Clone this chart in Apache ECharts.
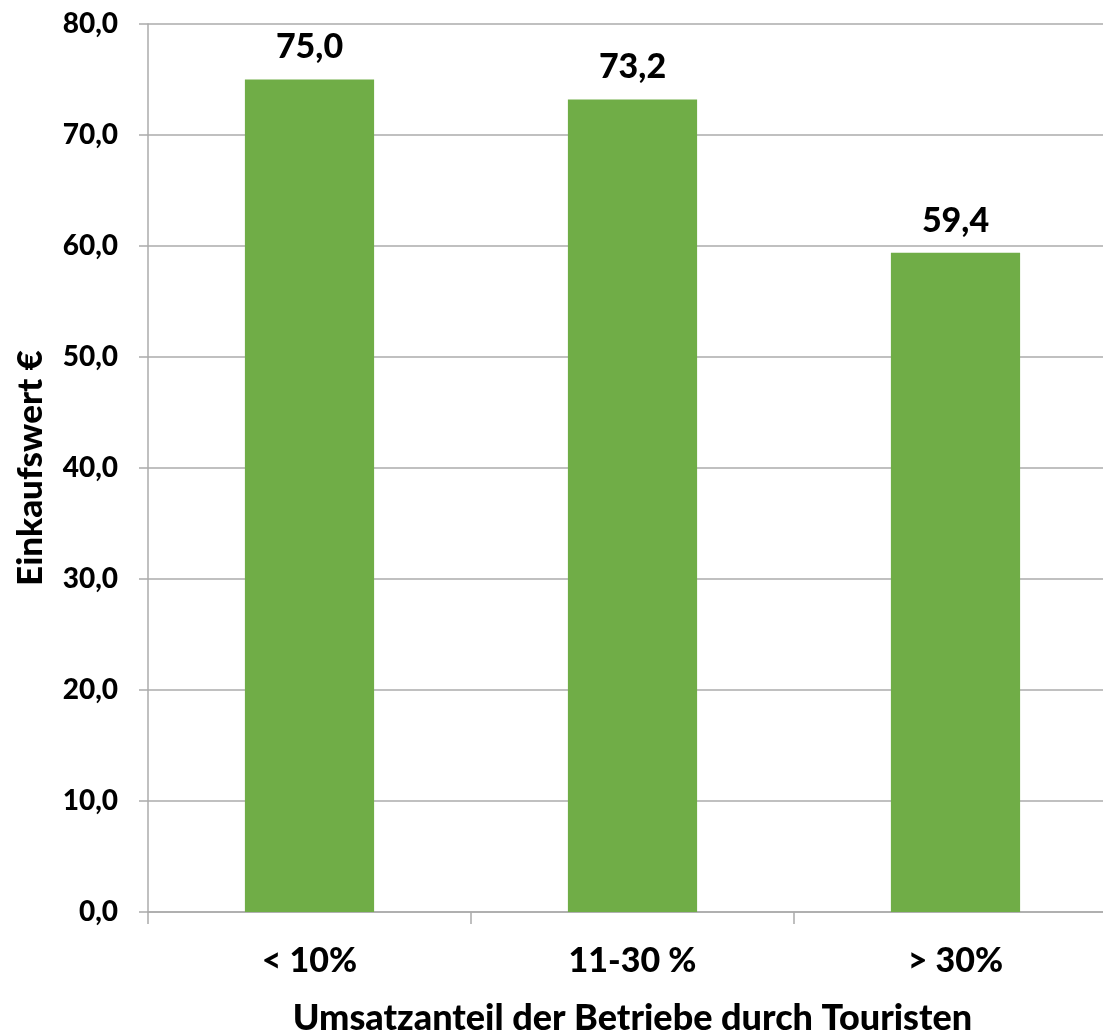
<!DOCTYPE html>
<html>
<head>
<meta charset="utf-8">
<script src="https://cdn.jsdelivr.net/npm/echarts@6/dist/echarts.min.js"></script>
<style>
  html, body { margin: 0; padding: 0; background: #fff; }
  #chart { width: 1103px; height: 1035px; }
</style>
</head>
<body>
<div id="chart"></div>
<script>
// Average purchase value by tourist share of business turnover
const categories = ['< 10%', '11-30 %', '> 30%'];
const values = [75.0, 73.2, 59.4];
const yTicks = [0, 10, 20, 30, 40, 50, 60, 70, 80];

const FONT = 'Lato, "Open Sans", sans-serif';
const WEIGHT = 900;
const fmt = v => v.toFixed(1).replace('.', ',');

const chart = echarts.init(document.getElementById('chart'), null, { renderer: 'canvas' });
chart.setOption({
  animation: false,
  backgroundColor: '#ffffff',
  grid: {
    left: 148, top: 24, bottom: 123, width: 969,
    containLabel: false,
    outerBoundsMode: 'none'
  },
  xAxis: {
    type: 'category',
    data: categories,
    name: 'Umsatzanteil der Betriebe durch Touristen',
    nameLocation: 'middle',
    nameGap: 88,
    nameTextStyle: { fontFamily: FONT, fontWeight: WEIGHT, fontSize: 36, color: '#000' },
    axisLine: { lineStyle: { color: '#ababab', width: 1.5 } },
    axisTick: { show: true, length: 12, lineStyle: { color: '#ababab', width: 1.5 } },
    axisLabel: { margin: 32, fontFamily: FONT, fontWeight: WEIGHT, fontSize: 34, color: '#000' }
  },
  yAxis: {
    type: 'value',
    min: yTicks[0],
    max: yTicks[yTicks.length - 1],
    interval: 10,
    name: 'Einkaufswert €',
    nameLocation: 'middle',
    nameGap: 100,
    nameTextStyle: { fontFamily: FONT, fontWeight: WEIGHT, fontSize: 35, color: '#000' },
    axisLine: { show: true, lineStyle: { color: '#ababab', width: 1.5 } },
    axisTick: { show: true, length: 9, lineStyle: { color: '#ababab', width: 1.5 } },
    splitLine: { show: true, lineStyle: { color: '#ababab', width: 1.5 } },
    axisLabel: {
      margin: 30, fontFamily: FONT, fontWeight: WEIGHT, fontSize: 28, color: '#000',
      formatter: v => fmt(v)
    }
  },
  series: [{
    type: 'bar',
    data: values,
    barWidth: '40%',
    itemStyle: { color: '#70ad47' },
    label: {
      show: true,
      position: 'top',
      distance: 15,
      fontFamily: FONT,
      fontWeight: WEIGHT,
      fontSize: 34,
      color: '#000',
      formatter: p => fmt(p.value)
    }
  }]
});
</script>
</body>
</html>
